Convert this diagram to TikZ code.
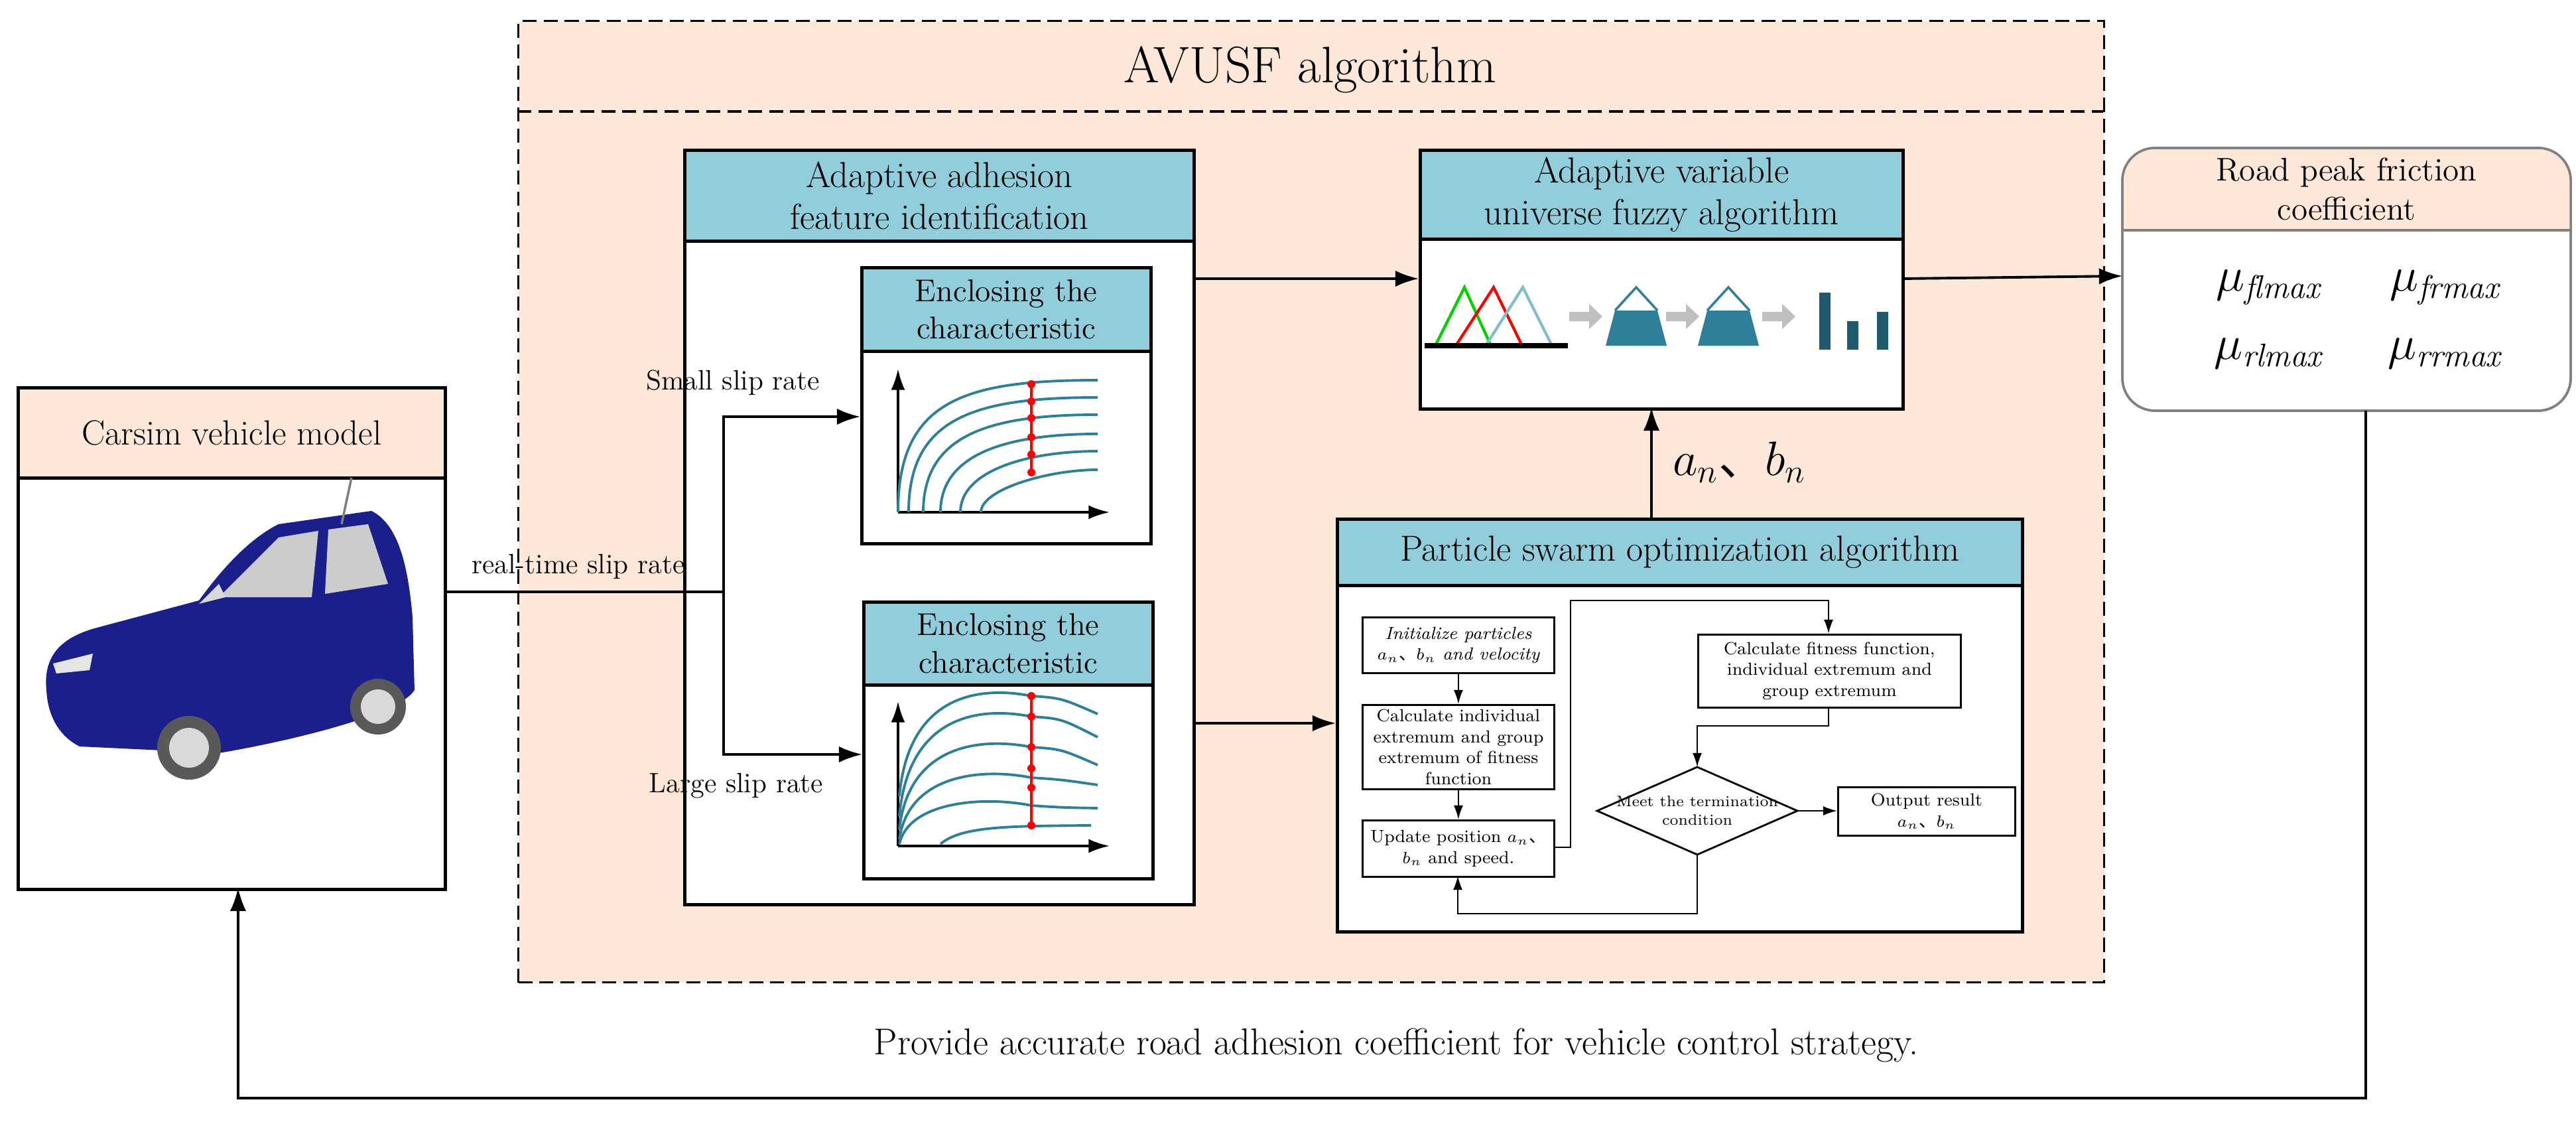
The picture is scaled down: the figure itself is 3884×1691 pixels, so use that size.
\documentclass[tikz,border=0pt]{standalone}
\usepackage{fontspec}
\usetikzlibrary{arrows.meta}
\newfontfamily\cjk{Noto Sans CJK SC}
\newcommand\dn{\mbox{\cjk 、}}
\definecolor{peach}{HTML}{FCE7D8}
\definecolor{hdr}{HTML}{92CDDC}
\definecolor{teal}{HTML}{2E8099}
\definecolor{dteal}{HTML}{1F5A6E}
\definecolor{navy}{HTML}{1A1F8C}
\newcommand\mkbox[7]{\node[#6,anchor=north west,minimum width={(#4-#2)*0.01cm},minimum height={(#5-#3)*0.01cm},inner sep=0pt] (#1) at (#2,#3) {#7};}
\tikzset{
 blk/.style={draw,line width=1.3pt,fill=white},
 hd/.style={draw,line width=1.3pt,fill=hdr,align=center,font=\fontsize{15.5}{18}\selectfont},
 hds/.style={draw,line width=1.3pt,fill=hdr,align=center,font=\fontsize{13.5}{16}\selectfont},
 fc/.style={draw,line width=0.8pt,fill=white,align=center,font=\fontsize{7.5}{9}\selectfont},
 ar/.style={line width=1.1pt,-{Latex[length=10pt,width=7pt]}},
 far/.style={line width=0.6pt,-{Latex[length=6pt,width=4pt]}},
 crv/.style={teal,line width=1.1pt},
 dot/.style={red,line width=1pt},
}
\begin{document}
\begin{tikzpicture}[x=0.01cm,y=-0.01cm]
\useasboundingbox (0,0) rectangle (3884,1691);
% outer dashed
\mkbox{outer}{780}{30}{3171}{1479}{draw,fill=peach,dash pattern=on 6pt off 3pt,line width=0.9pt}{}
\draw[dash pattern=on 6pt off 3pt,line width=0.9pt] (780,168) -- (3171,168);
\node[font=\fontsize{22}{24}\selectfont] (title) at (1975,105) {AVUSF algorithm};
% carsim
\mkbox{carhd}{25}{582}{669}{718}{draw,fill=peach,line width=1.3pt,font=\fontsize{15}{18}\selectfont}{Carsim vehicle model}
\mkbox{car}{25}{718}{669}{1338}{blk}{}
% car picture
\fill[navy] (70,1040) .. controls (65,990) and (90,960) .. (150,945) -- (300,905) .. controls (340,850) and (380,810) .. (420,790) -- (560,770) .. controls (600,790) and (615,850) .. (622,930) -- (625,1040) .. controls (600,1080) and (420,1120) .. (330,1135) -- (120,1125) .. controls (90,1110) and (72,1080) .. (70,1040) -- cycle;
\fill[gray!40] (330,900) -- (420,810) -- (480,800) -- (470,900) -- cycle;
\fill[gray!40] (495,798) -- (555,790) -- (585,880) -- (490,895) -- cycle;
\fill[gray!30] (300,910) -- (330,880) -- (340,900) -- cycle;
\fill[gray!70!black] (285,1127) circle (48); \fill[gray!30] (285,1127) circle (30);
\fill[gray!70!black] (570,1065) circle (42); \fill[gray!30] (570,1065) circle (26);
\fill[gray!20] (80,1000) -- (140,985) -- (135,1010) -- (85,1015) -- cycle;
\draw[gray,line width=1pt] (515,790) -- (530,720);
% adhesion block
\mkbox{adhd}{1030}{224}{1798}{361}{hd}{Adaptive adhesion\\feature identification}
\mkbox{ad}{1030}{361}{1798}{1361}{blk}{}
% enclosing 1
\mkbox{e1hd}{1297}{401}{1733}{527}{hds}{Enclosing the\\characteristic}
\mkbox{e1}{1297}{527}{1733}{817}{blk}{}
\draw[line width=1.1pt,-{Latex[length=9pt,width=6pt]}] (1354,772) -- (1354,556);
\draw[line width=1.1pt,-{Latex[length=9pt,width=6pt]}] (1354,772) -- (1673,772);
\foreach \xa/\ye in {1354/573,1370/599,1392/625,1418/654,1448/680,1479/708}
  \draw[crv] (\xa,772) .. controls (\xa,{\ye+30}) and ({\xa+100},\ye) .. (1655,\ye);
\draw[dot] (1555,578) -- (1555,712);
\foreach \yy in {579,605,630,659,685,712} \fill[red] (1555,\yy) circle (6);
% enclosing 2
\mkbox{e2hd}{1300}{905}{1736}{1030}{hds}{Enclosing the\\characteristic}
\mkbox{e2}{1300}{1030}{1736}{1322}{blk}{}
\draw[line width=1.1pt,-{Latex[length=9pt,width=6pt]}] (1354,1275) -- (1354,1057);
\draw[line width=1.1pt,-{Latex[length=9pt,width=6pt]}] (1354,1275) -- (1673,1275);
\foreach \ys/\yp/\ye in {1200/1049/1076,1230/1080/1111,1250/1126/1153,1265/1172/1183,1272/1214/1218}
  \draw[crv] (1356,\ys) .. controls (1370,{\yp-5}) and (1480,{\yp-15}) .. (1555,\yp) .. controls (1600,{\yp+3}) .. (1655,\ye);
\draw[crv] (1418,1272) .. controls (1450,1245) and (1520,1245) .. (1645,1244);
\draw[dot] (1555,1049) -- (1555,1244);
\foreach \yy in {1049,1080,1126,1158,1187,1244} \fill[red] (1555,\yy) circle (6);
% fuzzy
\mkbox{fzhd}{2139}{224}{2867}{358}{hd}{Adaptive variable\\universe fuzzy algorithm}
\mkbox{fz}{2139}{358}{2867}{614}{blk}{}
\draw[green!70!black!60!green,line width=1.2pt] (2164,521) -- (2208,433) -- (2248,521);
\draw[red,line width=1.2pt] (2195,521) -- (2252,433) -- (2295,521);
\draw[hdr!80!teal,line width=1.2pt] (2240,521) -- (2296,433) -- (2340,521);
\draw[line width=2pt] (2148,521) -- (2364,521);
\foreach \xa in {2366,2512,2657}
  \fill[gray!50] (\xa,470) -- ({\xa+30},470) -- ({\xa+30},458) -- ({\xa+50},477) -- ({\xa+30},496) -- ({\xa+30},484) -- (\xa,484) -- cycle;
\foreach \xa in {2421,2560}{
  \fill[teal] ({\xa+14},468) -- ({\xa+78},468) -- ({\xa+92},521) -- (\xa,521) -- cycle;
  \draw[teal,line width=1pt] ({\xa+14},468) -- ({\xa+46},433) -- ({\xa+78},468);}
\fill[dteal] (2743,441) rectangle (2760,527);
\fill[dteal] (2785,484) rectangle (2802,527);
\fill[dteal] (2830,470) rectangle (2847,527);
% PSO
\mkbox{pshd}{2014}{780}{3047}{880}{hd}{Particle swarm optimization algorithm}
\mkbox{ps}{2014}{880}{3047}{1402}{blk}{}
\mkbox{f1}{2053}{929}{2342}{1013}{fc}{\itshape Initialize particles\\\itshape $a_n$\dn$b_n$ and velocity}
\mkbox{f2}{2053}{1061}{2342}{1188}{fc}{Calculate individual\\extremum and group\\extremum of fitness\\function}
\mkbox{f3}{2053}{1235}{2342}{1320}{fc}{Update position $a_n$\dn\\$b_n$ and speed.}
\mkbox{f4}{2559}{955}{2955}{1065}{fc}{Calculate fitness function,\\individual extremum and\\group extremum}
\node[draw,line width=0.8pt,fill=white,shape=coordinate] (dm) at (2559,1222) {};
\draw[line width=0.8pt,fill=white] (2408,1222) -- (2559,1156) -- (2710,1222) -- (2559,1288) -- cycle;
\node[font=\fontsize{6.5}{8}\selectfont,align=center] (dmt) at (dm) {Meet the termination\\condition};
\mkbox{f5}{2770}{1185}{3037}{1258}{fc}{Output result\\$a_n$\dn$b_n$}
\draw[far] (f1) -- (f2);
\draw[far] (f2) -- (f3);
\draw[far] (f3.east |- 0,1277) -- (2368,1277) -- (2368,905) -- (2757,905) -- (2757,955);
\draw[far] (2757,1065) -- (2757,1094) -- (2559,1094) -- (2559,1156);
\draw[far] (2710,1222) -- (f5.west |- 0,1222);
\draw[far] (2559,1288) -- (2559,1377) -- (2198,1377) -- (2198,1320);
% road peak
\draw[gray,line width=1pt,fill=white,rounded corners=14] (3200,223) rectangle (3876,619);
\fill[peach,rounded corners=14] (3201,224) rectangle (3875,347);
\fill[peach] (3201,300) rectangle (3875,347);
\draw[gray,line width=1pt,rounded corners=14] (3200,223) rectangle (3876,619);
\draw[gray,line width=1pt] (3200,347) -- (3876,347);
\node[align=center,font=\fontsize{14}{17}\selectfont] (rphd) at (3538,285) {Road peak friction\\coefficient};
\coordinate (rp) at (3200,416);
\node[font=\fontsize{20}{22}\selectfont] (m1) at (3420,433) {$\mu_{\mathit{flmax}}$};
\node[font=\fontsize{20}{22}\selectfont] (m2) at (3686,433) {$\mu_{\mathit{frmax}}$};
\node[font=\fontsize{20}{22}\selectfont] (m3) at (3420,533) {$\mu_{\mathit{rlmax}}$};
\node[font=\fontsize{20}{22}\selectfont] (m4) at (3686,533) {$\mu_{\mathit{rrmax}}$};
% connectors
\coordinate (sp) at (1091,892);
\draw[line width=1.1pt] (car.east |- sp) -- (sp);
\draw[ar] (1091,892) -- (1091,628) -- (e1.west |- 0,628);
\draw[ar] (1091,892) -- (1091,1137) -- (e2.west |- 0,1137);
\node[font=\fontsize{12}{14}\selectfont,anchor=south] (rt) at (872,885) {real-time slip rate};
\node[font=\fontsize{12}{14}\selectfont] (ss) at (1105,577) {Small slip rate};
\node[font=\fontsize{12}{14}\selectfont] (ls) at (1110,1184) {Large slip rate};
\draw[ar] (1798,420) -- (fz.west |- 0,420);
\draw[ar] (1798,1090) -- (ps.west |- 0,1090);
\draw[ar] (2490,780) -- (2490,614);
\node[font=\fontsize{20}{22}\selectfont,anchor=west] (ab) at (2510,697) {$a_n$\dn$b_n$};
\draw[ar] (2867,420) -- (rp);
\draw[ar] (3567,619) -- (3567,1655) -- (359,1655) -- (359,1338);
\node[font=\fontsize{16}{18}\selectfont] (bt) at (2105,1575) {Provide accurate road adhesion coefficient for vehicle control strategy.};
\end{tikzpicture}
\end{document}
